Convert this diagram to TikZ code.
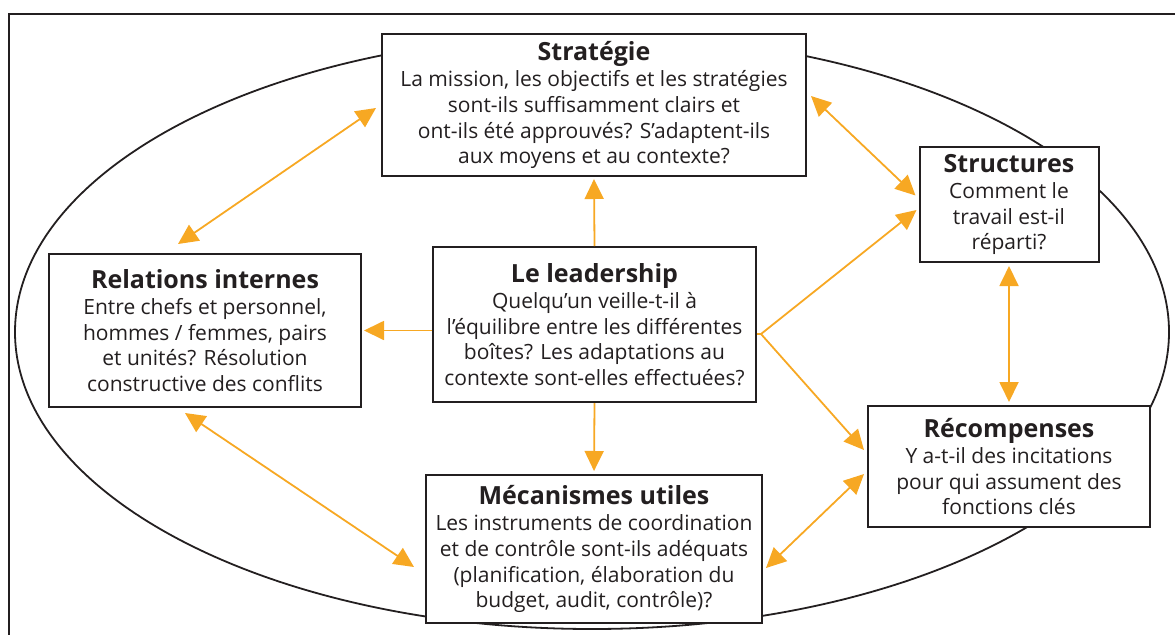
\documentclass[tikz,border=0pt]{standalone}
\usepackage{fontspec}
\setmainfont{Open Sans}
\usetikzlibrary{calc,arrows.meta}
\definecolor{arrorange}{RGB}{247,168,35}
\definecolor{inkgray}{RGB}{35,31,32}
\newcommand{\boxtitle}[1]{{\fontsize{25}{26}\selectfont\bfseries #1}\\[0.5pt]}

\begin{document}
\begin{tikzpicture}[x=1pt,y=-1pt,
		box/.style={draw=inkgray, line width=2pt, fill=white, text=inkgray, align=center,
			font=\fontsize{21}{25.7}\selectfont, inner sep=0pt},
		arr/.style={draw=arrorange, line width=1.8pt, -{Triangle[length=20pt,width=19pt]}},
		biarr/.style={arr, {Triangle[length=20pt,width=19pt]}-{Triangle[length=20pt,width=19pt]}}]
		%%%%% START %%%%%
		\useasboundingbox (0, 0) rectangle (1175, 635);
		\draw[line width=1.8pt, draw=inkgray] (1175, 14) -- (9, 14) -- (9, 635);
		\draw[line width=1.8pt, draw=inkgray] (592, 332) ellipse (577 and 297);
		
		\node[box, minimum width=424pt, minimum height=142pt] (strat) at (594, 105)
			{\boxtitle{Stratégie}La mission, les objectifs et les stratégies\\ sont-ils suffisamment clairs et\\ ont-ils été approuvés? S’adaptent-ils\\ aux moyens et au contexte?};
		\node[box, minimum width=323pt, minimum height=155pt] (lead) at (594.5, 324.5)
			{\boxtitle{Le leadership}Quelqu’un veille-t-il à\\ l’équilibre entre les différentes\\ boîtes? Les adaptations au\\ contexte sont-elles effectuées?};
		\node[box, minimum width=179pt, minimum height=115pt] (struct) at (1009, 204.5)
			{\boxtitle{Structures}Comment le\\ travail est-il\\ réparti?};
		\node[box, minimum width=282pt, minimum height=121pt] (recomp) at (1009, 466.5)
			{\boxtitle{Récompenses}Y a-t-il des incitations\\ pour qui assument des\\ fonctions clés};
		\node[box, minimum width=312pt, minimum height=153pt] (relat) at (205, 330.5)
			{\boxtitle{Relations internes}Entre chefs et personnel,\\ hommes / femmes, pairs\\ et unités? Résolution\\ constructive des conflits};
		\node[box, minimum width=336pt, minimum height=148pt] (meca) at (594, 549)
			{\boxtitle{Mécanismes utiles}Les instruments de coordination\\ et de contrôle sont-ils adéquats\\ (planification, élaboration du\\ budget, audit, contrôle)?};
		
		\coordinate (branch) at ($(lead.east)+(4, 9.5)$);
		
		\draw[biarr] ($(strat.west)+(-5, 3)$) -- ($(relat.north)+(-27, -9)$);
		\draw[biarr] ($(strat.east)+(4, -9)$) -- ($(struct.west)+(-3, -9)$);
		\draw[arr, shorten >=2pt] (lead.north) -- (strat.south);
		\draw[arr, shorten >=2pt] (lead.west |- relat.east) -- (relat.east);
		\draw[arr, shorten >=3pt] (lead.south) -- (meca.north);
		\draw[arr] (lead.east |- branch) -- (branch) -- ($(struct.west)+(-2, 5.5)$);
		\draw[arr] (branch) -- ($(recomp.west)+(-3, -16.5)$);
		\draw[biarr, shorten <=3pt, shorten >=3pt] (struct.south) -- (recomp.north);
		\draw[biarr] ($(relat.south)+(-20, 5)$) -- ($(meca.west)+(-11, 18)$);
		\draw[biarr] ($(meca.east)+(3, 19)$) -- ($(recomp.west)+(-3, 7.5)$);
		%%%%% END %%%%%
	\end{tikzpicture}
\end{document}
